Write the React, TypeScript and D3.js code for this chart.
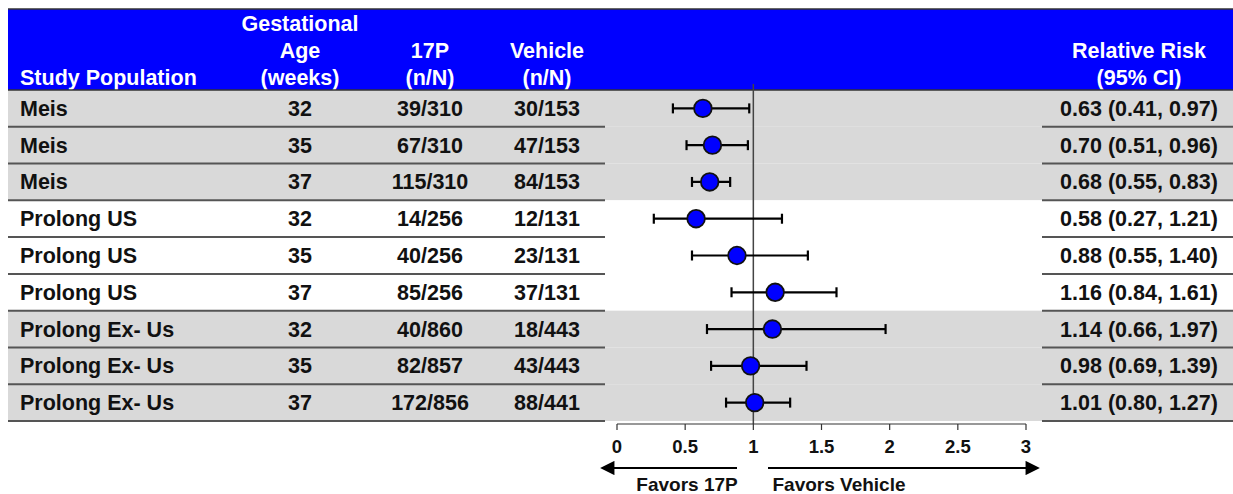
import React from "react";
import * as d3 from "d3";

// Table rows
const studies = [
  "Meis", "Meis", "Meis",
  "Prolong US", "Prolong US", "Prolong US",
  "Prolong Ex- Us", "Prolong Ex- Us", "Prolong Ex- Us",
];
const gestAge = ["32", "35", "37", "32", "35", "37", "32", "35", "37"];
const arm17P = ["39/310", "67/310", "115/310", "14/256", "40/256", "85/256", "40/860", "82/857", "172/856"];
const armVehicle = ["30/153", "47/153", "84/153", "12/131", "23/131", "37/131", "18/443", "43/443", "88/441"];
const rr = [0.63, 0.70, 0.68, 0.58, 0.88, 1.16, 1.14, 0.98, 1.01];
const ciLow = [0.41, 0.51, 0.55, 0.27, 0.55, 0.84, 0.66, 0.69, 0.80];
const ciHigh = [0.97, 0.96, 0.83, 1.21, 1.40, 1.61, 1.97, 1.39, 1.27];
const shaded = [true, true, true, false, false, false, true, true, true];
const axisTicks = [0, 0.5, 1, 1.5, 2, 2.5, 3];

const W = 1233;
const H = 494;
const FONT = "'Liberation Sans', Arial, Helvetica, sans-serif";
const BLUE = "#0000ff";
const GRAY = "#d9d9d9";
const LINE = "#555555";

export default function App() {
  const x = d3.scaleLinear().domain([0, 3]).range([617, 1026]);
  const y = d3
    .scaleBand<number>()
    .domain(d3.range(studies.length))
    .range([90, 421])
    .paddingInner(0);
  const bw = y.bandwidth();
  const left = 8;
  const headerTop = 9;
  const axisY = 424;
  const fmt = (v: number) => v.toFixed(2);

  const colStudy = 20;
  const colAge = 300;
  const col17P = 430;
  const colVeh = 547;
  const colRR = 1139;

  const textProps = {
    fontFamily: FONT,
    fontWeight: 700,
    fontSize: 21.5,
  };

  return (
    <div style={{ position: "fixed", left: 0, top: 0, background: "#fff" }}>
      <svg width={W} height={H} viewBox={`0 0 ${W} ${H}`} style={{ display: "block" }}>
        <defs>
          <marker id="arrowHead" viewBox="0 0 10 10" refX="8" refY="5" markerWidth="7" markerHeight="6.5" orient="auto-start-reverse" markerUnits="strokeWidth">
            <path d="M0,0 L10,5 L0,10 z" fill="#000" />
          </marker>
        </defs>

        {/* header band */}
        <rect x={left} y={headerTop} width={W - left} height={90 - headerTop} fill={BLUE} />
        <line x1={left} x2={W} y1={headerTop} y2={headerTop} stroke="#333" strokeWidth={1.5} />
        <g {...textProps} fill="#fff">
          <text x={colStudy} y={85}>Study Population</text>
          <text x={colAge} y={31} textAnchor="middle">Gestational</text>
          <text x={colAge} y={58} textAnchor="middle">Age</text>
          <text x={colAge} y={85} textAnchor="middle">(weeks)</text>
          <text x={col17P} y={58} textAnchor="middle">17P</text>
          <text x={col17P} y={85} textAnchor="middle">(n/N)</text>
          <text x={colVeh} y={58} textAnchor="middle">Vehicle</text>
          <text x={colVeh} y={85} textAnchor="middle">(n/N)</text>
          <text x={colRR} y={58} textAnchor="middle">Relative Risk</text>
          <text x={colRR} y={85} textAnchor="middle">(95% CI)</text>
        </g>

        {/* row bands */}
        {studies.map((_, i) => (
          <rect key={`band${i}`} x={left} y={y(i)!} width={W - left} height={bw} fill={shaded[i] ? GRAY : "#fff"} />
        ))}
        <line x1={left} x2={W} y1={90} y2={90} stroke="#333" strokeWidth={1.5} />

        {/* row separators */}
        {studies.map((_, i) => {
          const yy = y(i)! + bw;
          return (
            <g key={`sep${i}`} stroke={LINE} strokeWidth={2}>
              <line x1={left} x2={605} y1={yy} y2={yy} />
              <line x1={1042} x2={W} y1={yy} y2={yy} />
            </g>
          );
        })}

        {/* table text */}
        <g {...textProps} fill="#111">
          {studies.map((s, i) => {
            const cy = y(i)! + bw / 2 + 7.5;
            return (
              <g key={`txt${i}`}>
                <text x={colStudy} y={cy}>{s}</text>
                <text x={colAge} y={cy} textAnchor="middle">{gestAge[i]}</text>
                <text x={col17P} y={cy} textAnchor="middle">{arm17P[i]}</text>
                <text x={colVeh} y={cy} textAnchor="middle">{armVehicle[i]}</text>
                <text x={colRR} y={cy} textAnchor="middle">
                  {`${fmt(rr[i])} (${fmt(ciLow[i])}, ${fmt(ciHigh[i])})`}
                </text>
              </g>
            );
          })}
        </g>

        {/* reference line at RR = 1 */}
        <line x1={x(1)} x2={x(1)} y1={84} y2={axisY} stroke="#444" strokeWidth={1.5} />

        {/* confidence intervals and point estimates */}
        {studies.map((_, i) => {
          const cy = y(i)! + bw / 2;
          return (
            <g key={`ci${i}`}>
              <line x1={x(ciLow[i])} x2={x(ciHigh[i])} y1={cy} y2={cy} stroke="#000" strokeWidth={2.2} />
              <line x1={x(ciLow[i])} x2={x(ciLow[i])} y1={cy - 5} y2={cy + 5} stroke="#000" strokeWidth={2.2} />
              <line x1={x(ciHigh[i])} x2={x(ciHigh[i])} y1={cy - 5} y2={cy + 5} stroke="#000" strokeWidth={2.2} />
              <circle cx={x(rr[i])} cy={cy} r={8.8} fill={BLUE} stroke="#111" strokeWidth={1.8} />
            </g>
          );
        })}

        {/* x axis */}
        <line x1={x(0)} x2={x(3)} y1={axisY} y2={axisY} stroke="#333" strokeWidth={1.2} />
        {axisTicks.map((t) => (
          <g key={`tick${t}`}>
            <line x1={x(t)} x2={x(t)} y1={axisY} y2={axisY + 6} stroke="#333" strokeWidth={1.2} />
            <text x={x(t)} y={453} textAnchor="middle" fontFamily={FONT} fontWeight={700} fontSize={18.5} fill="#111">
              {String(t)}
            </text>
          </g>
        ))}

        {/* direction arrows */}
        <line x1={737} x2={603} y1={468} y2={468} stroke="#000" strokeWidth={2.2} markerEnd="url(#arrowHead)" />
        <line x1={768} x2={1037} y1={468} y2={468} stroke="#000" strokeWidth={2.2} markerEnd="url(#arrowHead)" />
        <text x={687} y={491} textAnchor="middle" fontFamily={FONT} fontWeight={700} fontSize={19} fill="#111">Favors 17P</text>
        <text x={839} y={491} textAnchor="middle" fontFamily={FONT} fontWeight={700} fontSize={19} fill="#111">Favors Vehicle</text>
      </svg>
    </div>
  );
}
